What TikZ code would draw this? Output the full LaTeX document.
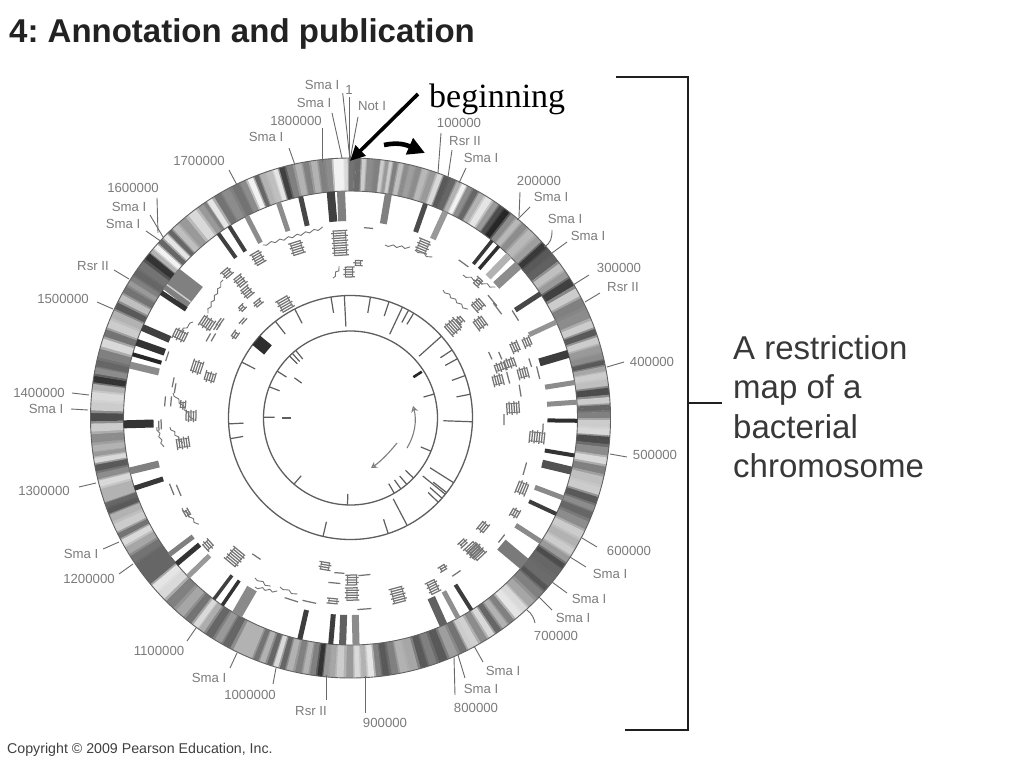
\documentclass[tikz,border=0pt]{standalone}
\usepackage{fontspec}
\setmainfont{Liberation Sans}
\newfontfamily\serifbeg{Liberation Serif}
\usetikzlibrary{arrows.meta}
\definecolor{labgray}{HTML}{7C7C7C}
\definecolor{genegray}{HTML}{747474}
\definecolor{tickgray}{HTML}{5E5E5E}
\definecolor{titleink}{HTML}{222222}
\newcommand{\lsize}{\fontsize{13.2}{15}\selectfont}
\tikzset{
  maplabel/.style={text=labgray,inner sep=0pt,font=\lsize},
  leader/.style={draw=labgray!85!black,line width=0.9pt},
  ringedge/.style={draw=black!62,line width=0.9pt},
  hoop/.style={draw=tickgray,line width=1.3pt},
  tickmark/.style={draw=tickgray,line width=1.2pt},
  genedash/.style={draw=genegray,line width=1.25pt},
  generail/.style={draw=genegray,line width=0.8pt},
  geneline/.style={draw=genegray,line width=0.9pt,line join=round},
  bracketline/.style={draw=black!88,line width=1.9pt,line join=miter},
  pointer/.style={draw=black,line width=3.6pt},
  turnarrow/.style={draw=tickgray!80,line width=1.1pt},
}
% one band of the outer ring
\newcommand{\ringband}[3]{%
  \pgfmathsetmacro\sa{sin(#1)}\pgfmathsetmacro\ca{cos(#1)}%
  \pgfmathsetmacro\sb{sin(#2)}\pgfmathsetmacro\cb{cos(#2)}%
  \pgfmathsetmacro\pct{100*(1-(#3))}%
  \fill[black!\pct] ({350.5+260*\sa},{418-260*\ca}) -- ({350.5+260*\sb},{418-260*\cb})
    -- ({350.5+227*\sb},{418-227*\cb}) -- ({350.5+227*\sa},{418-227*\ca}) -- cycle;}
% radial bar: angle, width (px), gray level
\newcommand{\radbar}[5]{%
  \pgfmathsetmacro\bsn{sin(#1)}\pgfmathsetmacro\bcs{cos(#1)}%
  \pgfmathsetmacro\bh{#2/2}%
  \fill[black!#3] ({350.5+#4*\bsn-\bh*\bcs},{418-#4*\bcs-\bh*\bsn}) --
    ({350.5+#4*\bsn+\bh*\bcs},{418-#4*\bcs+\bh*\bsn}) --
    ({350.5+#5*\bsn+\bh*\bcs},{418-#5*\bcs+\bh*\bsn}) --
    ({350.5+#5*\bsn-\bh*\bcs},{418-#5*\bcs-\bh*\bsn}) -- cycle;}
% stack of short dashes tangent to the circles
\newcommand{\ladder}[4]{%
  \pgfmathsetmacro\gdx{#1-350.5}\pgfmathsetmacro\gdy{#2-418}%
  \pgfmathsetmacro\gr{veclen(\gdx,\gdy)}%
  \pgfmathsetmacro\gux{\gdx/\gr}\pgfmathsetmacro\guy{\gdy/\gr}%
  \foreach \k in {1,...,#3}{%
    \pgfmathsetmacro\gs{(\k-(#3+1)/2)*2.45}%
    \pgfmathsetmacro\gj{mod(\k,2)*1.4-0.7}%
    \draw[genedash] ({#1+\gs*\gux-(#4/2+\gj)*\guy},{#2+\gs*\guy+(#4/2+\gj)*\gux}) --
      ({#1+\gs*\gux+(#4/2-\gj)*\guy},{#2+\gs*\guy-(#4/2-\gj)*\gux});}%
  \ifnum#3>2
    \pgfmathsetmacro\gh{(#3-1)/2*2.45}%
    \pgfmathsetmacro\gq{#4/2-1.5}%
    \draw[generail] ({#1-\gh*\gux-\gq*\guy},{#2-\gh*\guy+\gq*\gux}) -- ({#1+\gh*\gux-\gq*\guy},{#2+\gh*\guy+\gq*\gux});
    \draw[generail] ({#1-\gh*\gux+\gq*\guy},{#2-\gh*\guy-\gq*\gux}) -- ({#1+\gh*\gux+\gq*\guy},{#2+\gh*\guy-\gq*\gux});
  \fi}
% small zigzag run
\newcommand{\zigzag}[5]{%
  \pgfmathsetmacro\zl{veclen(#3-#1,#4-#2)}%
  \pgfmathsetmacro\znx{-(#4-#2)/\zl*1.1}\pgfmathsetmacro\zny{(#3-#1)/\zl*1.1}%
  \draw[geneline] (#1,#2) \foreach \k in {1,...,#5}{%
    -- ({#1+(#3-#1)*(\k-0.6)/#5+\znx},{#2+(#4-#2)*(\k-0.6)/#5+\zny})
    -- ({#1+(#3-#1)*\k/#5-\znx},{#2+(#4-#2)*\k/#5-\zny})};}
\begin{document}
\begin{tikzpicture}[x=1pt,y=-1pt]
\useasboundingbox (0,0) rectangle (1024,768);
\fill[white] (0,0) rectangle (1024,768);

% --- banded outer ring
\xdef\prevA{0}\xdef\prevG{0.45}
\foreach \a/\g in {
1.8/.42,3/.8,4.1/.55,6.3/.5,7/.8,8.2/.6,8.9/.8,10/.5,11.3/.75,12.5/.55,13.7/.62,15.4/.55,16.6/.72,18.6/.6,20.3/.85,21.6/.35,23.4/.4,24.8/.7,26/.95,27.3/.55,28.9/.4,30.3/.7,32.2/.9,34.2/.6,35.6/.3,37/.15,38.9/.55,40.4/.72,42/.55,44.2/.72,46.6/.62,48.2/.22,50/.35,52/.38,54.4/.75,56.4/.6,58.2/.25,61.2/.8,63.3/.5,66.4/.55,68.9/.8,70.6/.35,72.6/.8,74.4/.6,76.4/.55,77.6/.35,79/.65,80.3/.8,82.2/.75,84/.3,86.2/.8,87.6/.4,89.3/.5,91.2/.8,93.3/.85,94.7/.3,97.6/.55,99.5/.85,101.6/.5,104/.75,106.5/.8,108.5/.35,110.5/.55,111.8/.4,114.6/.55,116.7/.8,119/.7,121.2/.8,123/.6,125/.3,126/.4,130/.42,130.9/.33,132.8/.5,136/.65,137.7/.85,139.7/.9,141.8/.5,143.4/.7,145.3/.4,147/.85,149/.55,151.4/.82,152.4/.8,154/.45,156.6/.62,159/.35,161.6/.5,163.4/.35,165.8/.65,168.3/.7,170/.5,172.3/.35,173.7/.5,175.4/.9,177/.7,178.5/.85,180/.6,182.5/.8,184/.65,185.6/.6,186.7/.2,188.4/.5,190/.7,191.5/.5,193.7/.7,195.2/.4,196.8/.85,198/.4,200/.7,201.3/.45,203/.7,205.7/.7,208.8/.4,210.6/.6,213/.4,215.3/.68,216.5/.85,218.6/.45,221/.65,224.2/.5,226.9/.85,229.2/.9,231/.4,235/.4,237/.45,239.3/.65,241.4/.85,243/.45,244.7/.8,247.6/.7,248.9/.35,250.5/.4,251.5/.7,253.3/.7,255.5/.85,256.9/.55,259/.35,260.6/.85,262/.6,263/.7,265.5/.55,267.9/.8,270.2/.3,272.6/.8,275/.85,277/.7,278.5/.2,280.7/.55,282/.4,284.5/.5,287/.85,289.2/.45,291.2/.8,293.8/.7,295.6/.35,297.7/.75,299.6/.45,301.7/.6,302.3/.5,304.2/.4,306/.45,308.9/.2,310/.7,311.4/.95,312.9/.4,314.6/.9,315.9/.4,317.4/.75,319.5/.6,322.5/.85,325/.6,326/.5,326.8/.9,329.3/.45,331/.55,334/.45,335.5/.55,337.4/.95,338.8/.4,340/.7,342/.75,343.2/.9,344.6/.25,346.3/.5,348.5/.7,350/.5,352/.7,353.5/.5,355.2/.55,356.8/.95,358/.95,359/.85,360/.45}{
  \pgfmathsetmacro\mA{\prevA+0.38*(\a-\prevA)}
  \pgfmathsetmacro\mB{\prevA+0.62*(\a-\prevA)}
  \pgfmathsetmacro\mG{(\prevG+\g)/2}
  \ringband{\prevA}{\mA+0.1}{\prevG}
  \ringband{\mA}{\mB+0.1}{\mG}
  \ringband{\mB}{\a+0.1}{\g}
  \xdef\prevA{\a}\xdef\prevG{\g}
}
\draw[ringedge] (350.5,418) circle (260);
\draw[ringedge] (350.5,418) circle (227);

% --- radial bars under the ring
\foreach \t/\w/\k in {355/8/75,357.6/8/50,9.6/7/50,19.3/5/70,24.7/6/40,38.6/3.5/78,40.8/3.5/82,44.3/7/30,47.7/9/45,
 56.8/5/72,65/5/42,73.6/8/76,81/5/45,86/5/45,90.7/4/82,99.5/4/80,103.4/8/68,110.6/5/46,115/4/76,123/5/46,130/13/52,
 147.8/4/76,151.7/5/44,155.8/8/62,178.6/7/45,182/7/62,185/5/76,192.9/5/76,210/11/46,214.4/3.5/80,217/3.5/75,225.7/5/40,
 230/5/80,233/5/50,252/5/78,256.5/7/50,268.4/8/80,283.5/7/45,286.3/4/85,289.5/7/80,293.5/7/75,307.8/26/50,303.5/5/80,
 306/1.5/20,324.4/4/75,327.7/4/75,332.8/5/45,341.5/5/45,347.3/5/72}{
  \radbar{\t}{\w}{\k}{227}{197}
}

% --- middle and inner circles
\draw[hoop] (350.5,417.5) circle (122);
\draw[hoop] (350.5,418) circle (87);
\foreach \t/\ri in {357.1/91,350.8/106,9.4/106,18.4/107,28.4/108,31.2/109,25.2/92,48.2/92,56.4/108,61.2/108,69.9/108,79/108,92/93,
  122.3/94,129/93,128/105,131.4/106,134/108,152.3/92,162/107,193/107,260/109,267/107,297/107,322/106,332.8/106}{
  \pgfmathsetmacro\ts{sin(\t)}\pgfmathsetmacro\tc{cos(\t)}
  \draw[tickmark] ({350.5+\ri*\ts},{417.5-\ri*\tc}) -- ({350.5+122*\ts},{417.5-122*\tc});
}
\radbar{309.5}{12}{82}{122}{107}
\foreach \t in {74,112.4,133.6,139.7,144.6,149.8,182,220.5,270.5,291,302.6,315.5,318,321}{
  \pgfmathsetmacro\ts{sin(\t)}\pgfmathsetmacro\tc{cos(\t)}
  \draw[tickmark] ({350.5+76*\ts},{418-76*\tc}) -- ({350.5+87*\ts},{418-87*\tc});
}
\draw[tickmark,line width=2.6pt,draw=black!85] ({350.5+75*sin(57)},{418-75*cos(57)}) -- ({350.5+85*sin(57)},{418-85*cos(57)});
\draw[tickmark] ({350.5+60*sin(270)},{418-60*cos(270)}) -- ({350.5+69*sin(270)},{418-69*cos(270)});
\draw[tickmark] ({350.5+60*sin(305.6)},{418-60*cos(305.6)}) -- ({350.5+69*sin(305.6)},{418-69*cos(305.6)});

% inner turning arrows
\coordinate (t1a) at (407,448); \coordinate (t1b) at (413,406);
\coordinate (t2a) at (397,443); \coordinate (t2b) at (371,468);
\draw[turnarrow,-{Stealth[open,length=6pt,width=7pt]}] (t1a) .. controls (415,435) and (417,420) .. (t1b);
\draw[turnarrow,-{Stealth[open,length=6pt,width=7pt]}] (t2a) .. controls (389,453) and (380,462) .. (t2b);

% --- gene marks
\foreach \x/\y/\n/\w in {340/243/11/15,349/272/5/10,358/263/3/8,368/228/1/9,423/246/6/12,297/248/6/13,258/258/6/11,
 227/273/4/10,240/281/5/10,247/292/5/10,242/308/3/7,258/303/3/9,285/304/6/14,243/321/2/8,207/323/6/12,220/322/2/9,217/327/2/7,
 213/338/1/9,208/338/1/9,235/335/3/8,180/335/6/11,167/357/1/10,197/367/5/13,210/377/5/10,173/383/1/10,175/389/1/10,165/402/1/10,171/402/1/10,
 183/405/3/8,191/416/5/11,160/425/2/10,183/443/6/11,172/490/1/12,179/491/1/12,187/513/3/8,208/545/4/10,235/557/7/15,257/557/1/10,
 292/600/1/14,310/602/1/14,325/566/4/11,340/573/1/10,335/583/1/12,352/580/5/12,365/575/1/12,352/594/6/13,333/601/3/11,365/609/1/14,
 398/595/7/14,433/587/6/11,443/568/3/8,457/573/1/10,473/550/6/14,483/527/4/11,502/538/1/10,463/543/3/9,477/552/6/14,522/488/5/13,515/513/4/9,
 525/468/1/13,537/437/7/12,543/427/1/8,513/408/6/12,504/419/1/11,520/390/1/12,523/373/5/11,538/372/1/13,510/363/5/10,498/380/5/11,508/377/1/12,500/367/5/9,
 515/347/4/11,527/342/4/10,490/355/1/8,500/355/1/8,530/362/1/9,515/315/1/12,478/305/5/11,480/323/5/12,453/327/6/14,460/320/3/8,
 497/308/1/14,492/300/1/14,478/282/4/8,463/263/1/12}{
  \ladder{\x}{\y}{\n}{\w}
}
\foreach \xa/\ya/\xb/\yb/\n in {385/245/410/248/3,263/245/323/228/7,443/290/467/310/4,463/275/495/288/4,223/280/207/313/5,193/322/180/332/2,
 173/393/193/420/4,157/427/163/447/3,170/427/182/443/3,182/508/198/525/3,255/578/270/587/2,255/587/277/592/3,280/587/297/595/2,333/278/340/267/2,415/250/432/258/2}{
  \zigzag{\xa}{\ya}{\xb}{\yb}{\n}
}

% --- labels with their leaders
\foreach \nm/\tx/\cx/\cy/\xa/\ya/\xb/\yb in {
 sa/Sma I/322/85/342.7/93/350/160,
 sb/Sma I/314/103/332/113/342/158,
 one/1/349/90/349/97/349/160,
 nota/Not I/372/106/358/117/350/160,
 ma/1800000/296/121/322/128/322/162,
 sc/Sma I/266/137/289/148/295/165,
 mb/100000/459/123/441/133/438/173,
 ra/Rsr II/465/141/452/150/448/177,
 sd/Sma I/481/158/466/168/459/183,
 mc/200000/539/181/520/192/519/217,
 se/Sma I/551/197/530/207/517/220,
 sf/Sma I/588/236/567/242/552/253,
 md/300000/619/268/589/275/573/285,
 rb/Rsr II/623/287/600/293/585/302,
 me/400000/652/362/624/362/607/367,
 mf/500000/655/455/627/457/610/454,
 mg/600000/629/551/597/547/582/538,
 sg/Sma I/610/574/586/567/570/557,
 sh/Sma I/589/599/567/593/552/582,
 si/Sma I/573/618/552/610/539/597,
 sj/Sma I/503/671/483/662/474/646,
 sk/Sma I/481/689/465/678/458/655,
 mh/800000/476/708/455/695/454/657,
 mi/900000/385/723/365/713/365/676,
 rc/Rsr II/311/711/326/700/326/675,
 mj/1000000/250/695/273/684/276/668,
 sl/Sma I/209/678/230/668/237/653,
 mk/1100000/159/651/187/641/196/628,
 ml/1200000/89/579/119/574/133/564,
 sm/Sma I/81/554/103/549/119/542,
 mm/1300000/44/491/79/487/96/483,
 sn/Sma I/46/409/71/409/88/410,
 mn/1400000/39/393/72/393/89/395,
 mo/1500000/63/299/97/302/113/309,
 rd/Rsr II/93/266/114/270/129/279,
 so/Sma I/123/224/146/231/162/242,
 sp/Sma I/129/207/150/215/163/237,
 mp/1600000/133/188/157/198/158/233,
 mq/1700000/199/161/229/170/237/185}{
  \node[maplabel] (\nm) at (\cx,\cy) {\tx};
  \coordinate (\nm-from) at (\xa,\ya);
  \coordinate (\nm-to) at (\xb,\yb);
  \draw[leader] (\nm-from) -- (\nm-to);
}
% leaders with a bend
\node[maplabel] (st) at (565,219) {Sma I};
\coordinate (st-from) at (552,230); \coordinate (st-to) at (544,247);
\draw[leader] (st-from) .. controls (552,238) and (551,243) .. (st-to);
\node[maplabel] (mr) at (556,636) {700000};
\coordinate (mr-from) at (535,623); \coordinate (mr-to) at (527,610);
\draw[leader] (mr-from) .. controls (534,618) and (532,614) .. (mr-to);

% --- title, notes, bracket
\node[inner sep=0pt,anchor=base west,text=titleink,font=\frenchspacing\bfseries\fontsize{33}{36}\selectfont] (title) at (9,43) {4: Annotation and publication};
\node[inner sep=0pt,anchor=base west,text=black,font=\serifbeg\fontsize{34}{38}\selectfont] (beg) at (429,107) {beginning};
\coordinate (begtail) at (418,94); \coordinate (begtip) at (350,161);
\draw[pointer,-{Triangle[length=15pt,width=14pt]}] (begtail) -- (begtip);
\coordinate (dirtail) at (384,145); \coordinate (dirtip) at (425,153);
\draw[line width=4.6pt,draw=black,-{Triangle[length=17pt,width=17pt]}] (dirtail) .. controls (394,143) and (402,143) .. (dirtip);

\coordinate (brtop) at (616,77); \coordinate (brtr) at (688,77);
\coordinate (brbr) at (688,730); \coordinate (brbot) at (625,730);
\coordinate (brmid) at (688,403); \coordinate (brnote) at (722,403);
\draw[bracketline] (brtop) -- (brtr) -- (brbr) -- (brbot);
\draw[bracketline] (brmid) -- (brnote);
\node[inner sep=0pt,anchor=north west,align=left,text=titleink!90,font=\fontsize{33}{39.5}\selectfont] (note) at (733,335) {A restriction\\map of a\\bacterial\\chromosome};
\node[inner sep=0pt,anchor=base west,text=black!75,font=\frenchspacing\fontsize{14.2}{16}\selectfont] (copy) at (7,753) {Copyright © 2009 Pearson Education, Inc.};
\end{tikzpicture}
\end{document}
